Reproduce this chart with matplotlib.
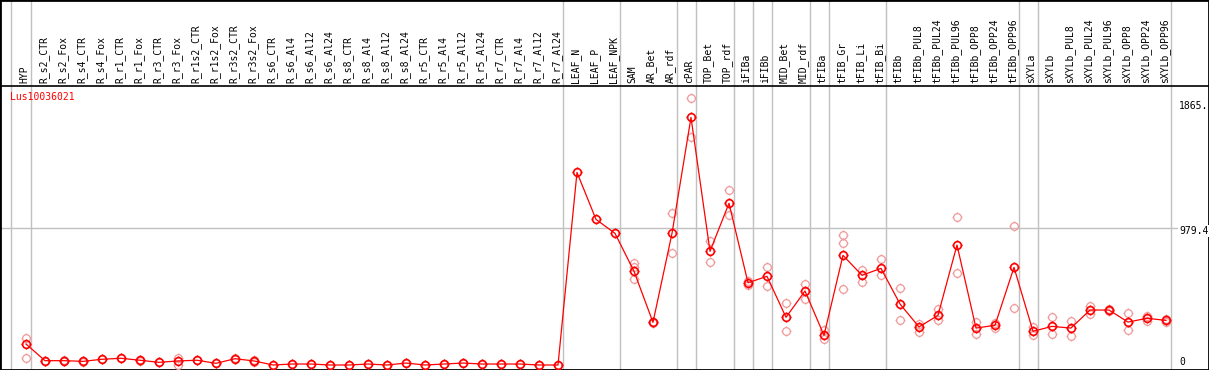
import matplotlib
matplotlib.use("Agg")
import matplotlib.pyplot as plt
from matplotlib.path import Path
import matplotlib.transforms as mtransforms
import numpy as np

categories = ["HYP", "R_s2_CTR", "R_s2_Fox", "R_s4_CTR", "R_s4_Fox", "R_r1_CTR", "R_r1_Fox",
              "R_r3_CTR", "R_r3_Fox", "R_r1s2_CTR", "R_r1s2_Fox", "R_r3s2_CTR", "R_r3s2_Fox",
              "R_s6_CTR", "R_s6_Al4", "R_s6_Al12", "R_s6_Al24", "R_s8_CTR", "R_s8_Al4",
              "R_s8_Al12", "R_s8_Al24", "R_r5_CTR", "R_r5_Al4", "R_r5_Al12", "R_r5_Al24",
              "R_r7_CTR", "R_r7_Al4", "R_r7_Al12", "R_r7_Al24", "LEAF_N", "LEAF_P", "LEAF_NPK",
              "SAM", "AR_Bet", "AR_rdf", "cPAR", "TOP_Bet", "TOP_rdf", "iFIBa", "iFIBb",
              "MID_Bet", "MID_rdf", "tFIBa", "tFIB_Gr", "tFIB_Li", "tFIB_Bi", "tFIBb",
              "tFIBb_PUL8", "tFIBb_PUL24", "tFIBb_PUL96", "tFIBb_OPP8", "tFIBb_OPP24",
              "tFIBb_OPP96", "sXYLa", "sXYLb", "sXYLb_PUL8", "sXYLb_PUL24", "sXYLb_PUL96",
              "sXYLb_OPP8", "sXYLb_OPP24", "sXYLb_OPP96"]

means = [150, 31, 31, 26, 41, 48, 34, 19, 29, 34, 12, 45, 29,
         0, 7, 7, 0, 0, 7, 0, 14, 0, 7, 14, 7, 7, 7, 0, 0,
         1377, 1041, 941, 670, 305, 941, 1770, 813, 1156, 588, 634,
         341, 529, 212, 784, 641, 691, 436, 272, 355, 858, 264, 284,
         698, 241, 276, 264, 393, 393, 307, 334, 319]

replicates = [[191, 52], [31, 28], [33, 29], [30, 22], [43], [48], [36, 32], [19], [48, 0],
              [36], [12], [47], [33, 25], [0], [7], [7], [0], [0], [7], [0], [14], [0], [7],
              [14], [7], [7], [7], [0], [0], [], [], [], [731, 703, 615], [310, 300],
              [1084, 798], [1906, 1627], [889, 739], [1251, 1072], [598, 574], [698, 567],
              [441, 243], [579, 474], [250, 186], [929, 874, 545], [679, 596], [758, 643],
              [548, 322], [291, 238], [403, 319], [1058, 655], [307, 219], [298, 262],
              [994, 407], [274, 214], [341, 219], [317, 210], [422, 362], [400, 388],
              [372, 248], [352, 317], [331, 307]]

group_breaks = [-0.8, 0.25, 28.25, 31.25, 34.25, 35.25, 37.25, 38.25, 39.25, 41.25,
                42.25, 45.25, 52.25, 53.25, 60.25]

ref_values = [1865.0, 979.4, 0.0]
ref_labels = ["1865.", "979.4", "0"]
gene_name = "Lus10036021"

W, H, DPI = 1209, 370, 100
fig = plt.figure(figsize=(W / DPI, H / DPI), dpi=DPI)
ax = fig.add_axes([0, 0, 1, 1])

# pixel geometry
x0px, dxpx = 26.0, 19.0          # pixel of first category, spacing
y0px = 365.0                      # pixel (from top) of value 0
ppu = 137.0 / 979.4               # pixels per unit
ax.set_xlim(-x0px / dxpx, (W - x0px) / dxpx)
ax.set_ylim((y0px - H) / ppu, y0px / ppu)

mono = "DejaVu Sans Mono"
fs = 7.0

# grid / layout lines
for b in group_breaks:
    ax.axvline(b, color="#c0c0c0", lw=1.0, zorder=1)
header_y = 1 - 85.5 / H
ax.axhline(979.4, color="#c0c0c0", lw=1.0, zorder=1)
ax.plot([0, 1], [header_y, header_y], transform=ax.transAxes, color="black", lw=1.2, zorder=3)

for s in ax.spines.values():
    s.set_linewidth(2.0)
    s.set_color("black")
ax.set_xticks([])
ax.set_yticks([])

# custom marker: circle with 4 short ticks
theta = np.linspace(0, 2 * np.pi, 33)
verts = [(np.cos(t), np.sin(t)) for t in theta]
codes = [Path.MOVETO] + [Path.LINETO] * (len(theta) - 1)
for (a, b) in [((1, 0), (1.3, 0)), ((-1, 0), (-1.3, 0)), ((0, 1), (0, 1.3)), ((0, -1), (0, -1.3))]:
    verts += [a, b]
    codes += [Path.MOVETO, Path.LINETO]
marker = Path(verts, codes)

xs = np.arange(len(categories))

# replicates
rx, ry = [], []
for i, reps in enumerate(replicates):
    for v in reps:
        rx.append(i)
        ry.append(v)
ax.plot(rx, ry, linestyle="none", marker=marker, markersize=7.2, markerfacecolor="none",
        markeredgecolor="#f09a9a", markeredgewidth=0.9, zorder=4)

# mean line
ax.plot(xs, means, color="#ff0000", lw=0.9, zorder=5)
ax.plot(xs, means, linestyle="none", marker=marker, markersize=7.2, markerfacecolor="none",
        markeredgecolor="#ff0000", markeredgewidth=1.2, zorder=6)

# header labels
label_y = 1 - 83.0 / H
trans_hdr = mtransforms.blended_transform_factory(ax.transData, ax.transAxes)
for i, c in enumerate(categories):
    ax.text(i - 0.08, label_y, c, rotation=90, ha="center", va="bottom",
            fontsize=fs, family=mono, color="black", transform=trans_hdr, zorder=7)

# gene name
ax.text(10 / W, 1 - 97 / H, gene_name, transform=ax.transAxes, ha="left", va="center",
        fontsize=fs, family=mono, color="#ff0000", zorder=7)

# right value labels
offsets_px = [-2, -3, 3]
for v, lab, off in zip(ref_values, ref_labels, offsets_px):
    t = mtransforms.offset_copy(mtransforms.blended_transform_factory(ax.transAxes, ax.transData),
                                fig=fig, x=0, y=off * 72 / DPI, units="points")
    ax.text(1179 / W, v, lab, transform=t, ha="left", va="center", fontsize=fs,
            family=mono, color="black", zorder=7,
            bbox=dict(facecolor="white", edgecolor="none", pad=0.5) if lab == "979.4" else None)

fig.savefig("out.png", dpi=DPI)
